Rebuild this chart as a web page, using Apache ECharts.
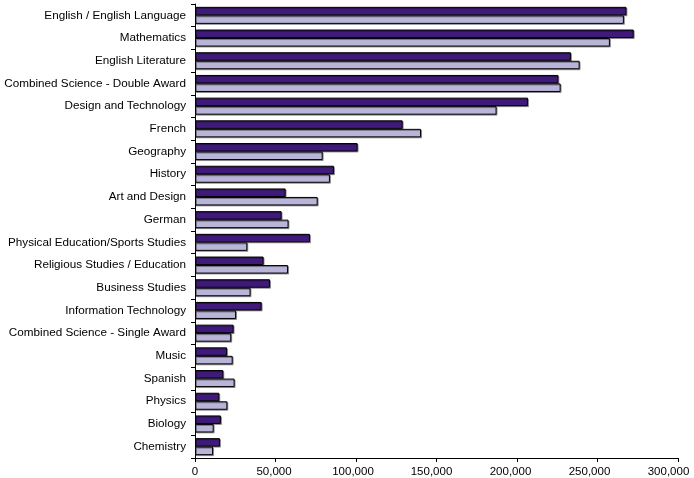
<!DOCTYPE html>
<html>
<head>
<meta charset="utf-8">
<script src="https://cdn.jsdelivr.net/npm/echarts@6/dist/echarts.min.js"></script>
<style>html,body{margin:0;padding:0;background:#fff}#c{width:694px;height:478px}</style>
</head>
<body>
<div id="c"></div>
<script>
const categories = ["English / English Language","Mathematics","English Literature","Combined Science - Double Award","Design and Technology","French","Geography","History","Art and Design","German","Physical Education/Sports Studies","Religious Studies / Education","Business Studies","Information Technology","Combined Science - Single Award","Music","Spanish","Physics","Biology","Chemistry"];
const seriesA = [268000,272500,233500,225700,206800,129000,101000,86300,56300,53800,71400,42600,46600,41400,24000,19900,17600,15100,16100,15500];
const seriesB = [266400,257700,238900,227100,187300,140400,79300,83800,76200,58100,32500,57800,34500,25500,22500,23400,24600,20100,11600,11200];
const xTicks = [0,50000,100000,150000,200000,250000,300000];

const chart = echarts.init(document.getElementById('c'));
const font = '"Liberation Sans", Arial, sans-serif';
const barStyle = (c) => ({color:c,borderColor:'#000',borderWidth:1,shadowColor:'rgba(0,0,0,0.35)',shadowOffsetX:1,shadowOffsetY:1,shadowBlur:0});
const rich = {};
xTicks.forEach((t,i)=>{ rich['r'+i] = {fontFamily:font,fontSize:11.5,color:'#000',padding:[0,Math.round(i*3.2),0,0]}; });
chart.setOption({
  animation:false,
  grid:{left:195,right:16,top:4,bottom:20,containLabel:false,outerBoundsMode:'none'},
  xAxis:{type:'value',min:xTicks[0],max:xTicks[xTicks.length-1],interval:50000,
    axisLine:{show:true,lineStyle:{color:'#000'}},
    axisTick:{show:true,length:4,lineStyle:{color:'#000'}},
    splitLine:{show:false},
    axisLabel:{fontFamily:font,fontSize:11.5,color:'#000',margin:8,rich:rich,
      formatter:v=>'{r'+xTicks.indexOf(v)+'|'+v.toLocaleString('en-US')+'}'}},
  yAxis:{type:'category',data:categories,inverse:true,
    axisLine:{show:true,lineStyle:{color:'#000'}},
    axisTick:{show:true,length:4,lineStyle:{color:'#000'}},
    axisLabel:{fontFamily:font,fontSize:11.7,color:'#000',margin:9}},
  series:[
    {type:'bar',data:seriesA,barGap:'0%',barCategoryGap:'25%',itemStyle:barStyle('#3f1a7a')},
    {type:'bar',data:seriesB,barGap:'0%',barCategoryGap:'25%',itemStyle:barStyle('#b9b5d9')}
  ]
});
</script>
</body>
</html>
